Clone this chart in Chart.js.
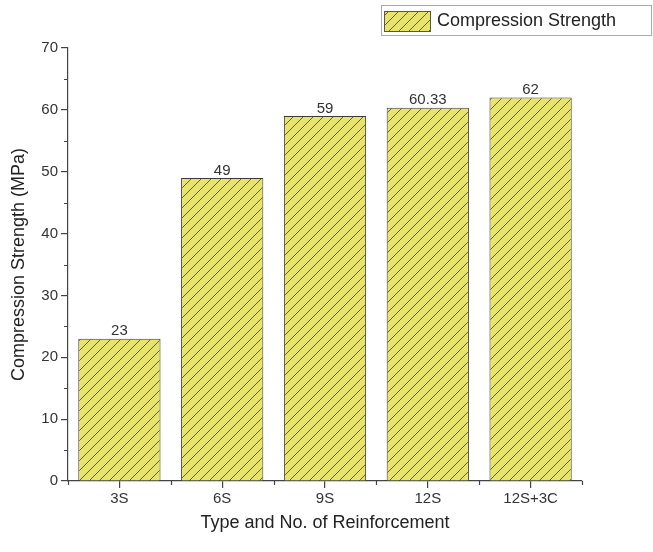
<!DOCTYPE html>
<html>
<head>
<meta charset="utf-8">
<script src="https://cdn.jsdelivr.net/npm/chart.js@4.4.1/dist/chart.umd.min.js"></script>
<style>
  html, body { margin: 0; padding: 0; background: #fff; }
  #wrap { width: 653px; height: 552px; }
</style>
</head>
<body>
<div id="wrap"><canvas id="chart" width="653" height="552"></canvas></div>
<script>
// chart data
const categories = ["3S", "6S", "9S", "12S", "12S+3C"];
const strength = [23, 49, 59, 60.33, 62];
const valueLabels = ["23", "49", "59", "60.33", "62"];
const yTicks = [0, 10, 20, 30, 40, 50, 60, 70];

const FONT = "'Liberation Sans', Arial, sans-serif";
const FILL = "#e8e46a";
const HATCH = "#62622e";

// diagonal hatch pattern
function makeHatch() {
  const c = document.createElement("canvas");
  const s = 10;
  c.width = s; c.height = s;
  const g = c.getContext("2d");
  g.fillStyle = FILL;
  g.fillRect(0, 0, s, s);
  g.strokeStyle = HATCH;
  g.lineWidth = 1;
  g.beginPath();
  g.moveTo(-2, s + 2); g.lineTo(s + 2, -2);
  g.moveTo(-2, 2); g.lineTo(2, -2);
  g.moveTo(s - 2, s + 2); g.lineTo(s + 2, s - 2);
  g.stroke();
  return g.createPattern(c, "repeat");
}

const hatch = makeHatch();

// value labels, minor ticks and legend
const extras = {
  id: "extras",
  afterDatasetsDraw(chart) {
    const ctx = chart.ctx;
    const meta = chart.getDatasetMeta(0);
    ctx.save();
    ctx.fillStyle = "#333";
    ctx.font = "15px " + FONT;
    ctx.textAlign = "center";
    ctx.textBaseline = "bottom";
    meta.data.forEach((bar, i) => {
      ctx.fillText(valueLabels[i], bar.x, bar.y);
    });
    ctx.restore();
  },
  afterDraw(chart) {
    const ctx = chart.ctx;
    const x = chart.scales.x, y = chart.scales.y;
    ctx.save();
    ctx.strokeStyle = "#444";
    ctx.lineWidth = 1.2;
    ctx.beginPath();
    for (let v = 5; v < 70; v += 10) {
      const py = Math.round(y.getPixelForValue(v)) + 0.5;
      ctx.moveTo(x.left, py); ctx.lineTo(x.left - 4, py);
    }
    for (let i = 0; i <= categories.length; i++) {
      const px = Math.round(x.getPixelForValue(i - 0.5)) + 0.5;
      ctx.moveTo(px, y.bottom); ctx.lineTo(px, y.bottom + 4);
    }
    ctx.stroke();

    // legend
    const lx = 381, ly = 5, lw = 270, lh = 30;
    ctx.strokeStyle = "#aaa";
    ctx.lineWidth = 1;
    ctx.strokeRect(lx + 0.5, ly + 0.5, lw, lh);
    ctx.fillStyle = hatch;
    ctx.fillRect(384, 11, 46, 20);
    ctx.strokeStyle = "#555";
    ctx.strokeRect(384.5, 11.5, 46, 20);
    ctx.fillStyle = "#222";
    ctx.font = "18px " + FONT;
    ctx.textAlign = "left";
    ctx.textBaseline = "middle";
    ctx.fillText("Compression Strength", 437, 21);
    ctx.restore();
  }
};

new Chart(document.getElementById("chart").getContext("2d"), {
  type: "bar",
  data: {
    labels: categories,
    datasets: [{
      label: "Compression Strength",
      data: strength,
      backgroundColor: hatch,
      borderColor: "#3a3a3a",
      borderWidth: 1,
      barPercentage: 0.8,
      categoryPercentage: 1.0
    }]
  },
  options: {
    responsive: false,
    animation: false,
    devicePixelRatio: 1,
    layout: { padding: { left: 0, top: 48, right: 71, bottom: 18 } },
    plugins: {
      legend: { display: false },
      tooltip: { enabled: false }
    },
    scales: {
      x: {
        offset: true,
        grid: { offset: false, drawOnChartArea: false, tickLength: 7, color: "#444", lineWidth: 1.2 },
        border: { color: "#444", width: 1.2 },
        ticks: { color: "#333", font: { size: 15, family: FONT }, padding: 2 },
        title: {
          display: true,
          text: "Type and No. of Reinforcement",
          color: "#222",
          font: { size: 18, family: FONT },
          padding: { top: 0, bottom: 0 }
        },
        afterFit: scale => { scale.height = 53; }
      },
      y: {
        min: 0,
        max: 70,
        afterBuildTicks: scale => { scale.ticks = yTicks.map(v => ({ value: v })); },
        grid: { drawOnChartArea: false, tickLength: 7, color: "#444", lineWidth: 1.2 },
        border: { color: "#444", width: 1.2 },
        ticks: { color: "#333", font: { size: 15, family: FONT }, padding: 3 },
        title: {
          display: true,
          text: "Compression Strength (MPa)",
          color: "#222",
          font: { size: 18, family: FONT },
          padding: { top: 8, bottom: 4 }
        },
        afterFit: scale => { scale.width = 68; }
      }
    }
  },
  plugins: [extras]
});
</script>
</body>
</html>
